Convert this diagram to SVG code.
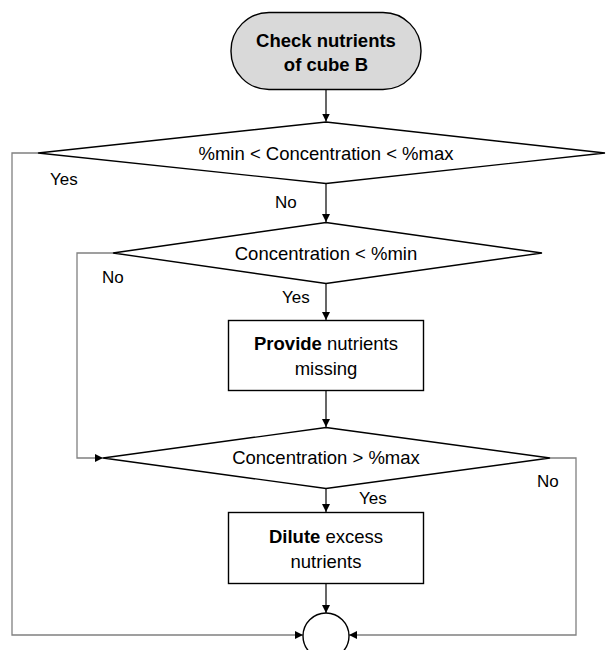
<svg xmlns="http://www.w3.org/2000/svg" width="607" height="650" viewBox="0 0 607 650">
<style>
.shape{fill:#ffffff;stroke:#000000;stroke-width:1.4}
.term{fill:#d9d9d9;stroke:#000000;stroke-width:1.4}
.t{font-family:"Liberation Sans",Arial,sans-serif;font-size:18.5px;fill:#000000;text-anchor:middle}
.b{font-weight:bold}
.lbl{font-family:"Liberation Sans",Arial,sans-serif;font-size:17px;fill:#000000}
.c{fill:none;stroke:#000000;stroke-width:1.2}
.g{fill:none;stroke:#808080;stroke-width:1.3}
</style>
<defs>
<marker id="arr" markerUnits="userSpaceOnUse" markerWidth="9" markerHeight="9" refX="8" refY="4" orient="auto">
<path d="M0,0 L8,4 L0,8 z" fill="#000000"/>
</marker>
</defs>
<rect width="607" height="650" fill="#ffffff"/>
<g id="connectors">
<path class="c" d="M326,89.5 V121.5" marker-end="url(#arr)"/>
<path class="c" d="M326,183.5 V222" marker-end="url(#arr)"/>
<path class="c" d="M326,283.5 V320" marker-end="url(#arr)"/>
<path class="c" d="M326,391 V427" marker-end="url(#arr)"/>
<path class="c" d="M326,488.5 V512" marker-end="url(#arr)"/>
<path class="c" d="M326,583.5 V613" marker-end="url(#arr)"/>
<path class="g" d="M38,153 H12 V635 H303" marker-end="url(#arr)"/>
<path class="g" d="M113,253 H77 V458 H103" marker-end="url(#arr)"/>
<path class="g" d="M550,458 H576 V635 H349" marker-end="url(#arr)"/>
<text class="lbl" x="50" y="185">Yes</text>
<text class="lbl" x="275" y="208">No</text>
<text class="lbl" x="102" y="283">No</text>
<text class="lbl" x="282" y="303">Yes</text>
<text class="lbl" x="537" y="487">No</text>
<text class="lbl" x="359" y="504">Yes</text>
</g>
<g id="start">
<rect class="term" x="231" y="12.5" width="190" height="77" rx="38" ry="38"/>
<text class="t b" x="326" y="47" font-size="18">Check nutrients</text>
<text class="t b" x="326" y="71">of cube B</text>
</g>
<g id="decision1">
<polygon class="shape" points="326,122 605,153 326,183.5 38,153"/>
<text class="t" x="326" y="159.5">%min &lt; Concentration &lt; %max</text>
</g>
<g id="decision2">
<polygon class="shape" points="326,222.5 542,253 326,283.5 113,253"/>
<text class="t" x="326" y="259.5">Concentration &lt; %min</text>
</g>
<g id="provide">
<rect class="shape" x="228.5" y="320.5" width="195" height="70"/>
<text class="t" x="326" y="350"><tspan class="b">Provide</tspan> nutrients</text>
<text class="t" x="326" y="375">missing</text>
</g>
<g id="decision3">
<polygon class="shape" points="326,427.5 550,458 326,488.5 103,458"/>
<text class="t" x="326" y="464">Concentration &gt; %max</text>
</g>
<g id="dilute">
<rect class="shape" x="228.5" y="512.5" width="195" height="71"/>
<text class="t" x="326" y="542.5"><tspan class="b">Dilute</tspan> excess</text>
<text class="t" x="326" y="567.5">nutrients</text>
</g>
<g id="end">
<circle class="shape" cx="326" cy="636" r="23" stroke-width="1.6"/>
</g>
</svg>
